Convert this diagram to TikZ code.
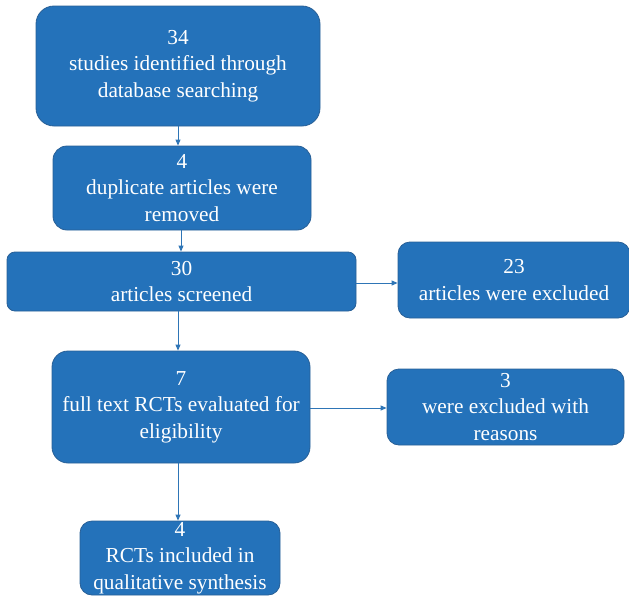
\documentclass[tikz,border=0pt]{standalone}
\usepackage{fontspec}
\setmainfont{Liberation Serif}
\usetikzlibrary{arrows.meta}
\definecolor{boxfill}{RGB}{36,114,186}
\definecolor{boxline}{RGB}{40,95,150}
\definecolor{arrowc}{RGB}{46,117,182}
\tikzset{
  fbox/.style={draw=boxline, line width=0.8pt, fill=boxfill, text=white, rounded corners=#1,
    font=\fontsize{21.3}{26.5}\selectfont, align=center, inner sep=0pt},
  fbox/.default=18pt,
  conn/.style={draw=arrowc, line width=1pt, -{Triangle[length=6pt,width=5pt]}}
}
\begin{document}
\begin{tikzpicture}[x=1pt,y=-1pt]
\useasboundingbox (0,0) rectangle (629,597);
\node[fbox, minimum width=284pt, minimum height=120pt] (a) at (178,66) {34\\studies identified through\\database searching};
\node[fbox=14pt, minimum width=258pt, minimum height=84pt] (b) at (182,188) {4\\duplicate articles were\\removed};
\node[fbox=8pt, minimum width=349pt, minimum height=59pt] (c) at (181.5,281.5) {30\\articles screened};
\node[fbox=12pt, minimum width=232pt, minimum height=76pt] (d) at (514,280) {23\\articles were excluded};
\node[fbox=16pt, minimum width=258pt, minimum height=112pt] (e) at (181,407) {7\\full text RCTs evaluated for\\eligibility};
\node[fbox=12pt, minimum width=237pt, minimum height=76pt] (f) at (505.5,407) {3\\were excluded with\\reasons};
\node[fbox=12pt, minimum width=200pt, minimum height=74pt] (g) at (180,558) {4\\RCTs included in\\qualitative synthesis};
\draw[conn] (a.south -| 178,0) -- (b.north -| 178,0);
\draw[conn] (b.south -| 181,0) -- (c.north -| 181,0);
\draw[conn] (c.south -| 178,0) -- (e.north -| 178,0);
\draw[conn] (c.east |- 0,283) -- (d.west |- 0,283);
\draw[conn] (e.east |- 0,408) -- (f.west |- 0,408);
\draw[conn] (e.south -| 178,0) -- (g.north -| 178,0);
\end{tikzpicture}
\end{document}
